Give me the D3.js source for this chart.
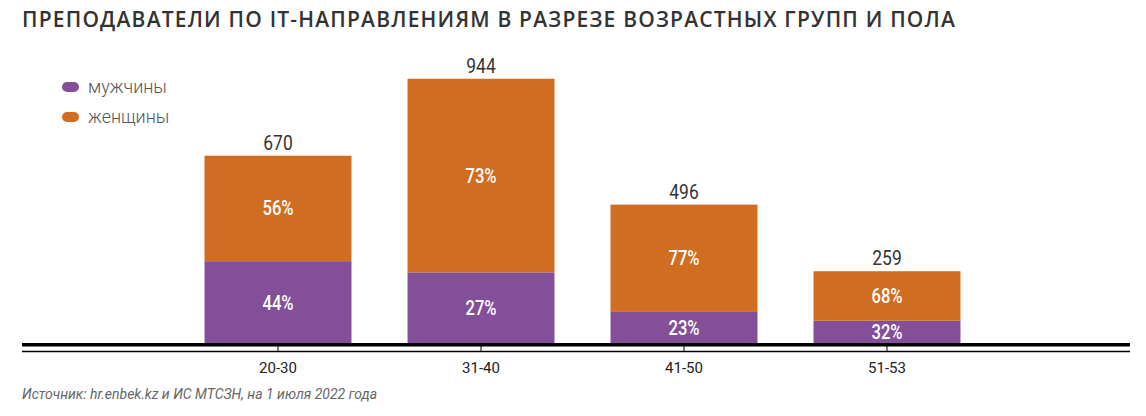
<!DOCTYPE html>
<html>
<head>
<meta charset="utf-8">
<script src="https://cdn.jsdelivr.net/npm/d3@7"></script>
<style>
  body { margin: 0; background: #fff; }
  svg { display: block; }
</style>
</head>
<body>
<div id="chart"></div>
<script>
// data
var groups = ["20-30", "31-40", "41-50", "51-53"];
var totals = [670, 944, 496, 259];
var menPct = [44, 27, 23, 32];
var womenPct = [56, 73, 77, 68];
var seriesNames = ["мужчины", "женщины"];
var colors = ["#834f99", "#d16d21"];

var width = 1146, height = 416;
var baseY = 344;

var svg = d3.select("#chart").append("svg")
    .attr("width", width)
    .attr("height", height);

// title
svg.append("text")
    .attr("x", 22)
    .attr("y", 27)
    .text("ПРЕПОДАВАТЕЛИ ПО IT-НАПРАВЛЕНИЯМ В РАЗРЕЗЕ ВОЗРАСТНЫХ ГРУПП И ПОЛА")
    .style("font-family", "'Open Sans', sans-serif")
    .style("font-size", "21px")
    .style("font-weight", "600")
    .style("letter-spacing", "1.2px")
    .style("fill", "#333");

var x = d3.scaleBand()
    .domain(groups)
    .range([176.5, 988.5])
    .paddingInner(0.276)
    .paddingOuter(0.138);

var y = d3.scaleLinear()
    .domain([0, 1000])
    .range([baseY, baseY - 281]);

var rows = groups.map(function (g, i) {
    return { group: g, total: totals[i], men: menPct[i], women: womenPct[i] };
});

// stacked bars
var bars = svg.append("g").selectAll("g")
    .data(rows)
    .join("g");

bars.append("rect")
    .attr("x", d => x(d.group))
    .attr("width", x.bandwidth())
    .attr("y", d => y(d.total * d.men / 100))
    .attr("height", d => baseY - y(d.total * d.men / 100))
    .style("fill", colors[0]);

bars.append("rect")
    .attr("x", d => x(d.group))
    .attr("width", x.bandwidth())
    .attr("y", d => y(d.total))
    .attr("height", d => y(d.total * d.men / 100) - y(d.total))
    .style("fill", colors[1]);

// condensed look for the numbers
function narrow(sel, cx, cy) {
    sel.attr("transform", d => "translate(" + cx(d) + "," + cy(d) + ") scale(0.83,1)")
        .attr("text-anchor", "middle")
        .style("font-family", "Roboto, sans-serif")
        .style("font-size", "20px");
}
var mid = d => x(d.group) + x.bandwidth() / 2;

// percentage labels
bars.append("text")
    .call(narrow, mid, d => (baseY + y(d.total * d.men / 100)) / 2 + 7)
    .text(d => d.men + "%")
    .style("font-weight", "500")
    .style("fill", "#fff");

bars.append("text")
    .call(narrow, mid, d => (y(d.total * d.men / 100) + y(d.total)) / 2 + 7)
    .text(d => d.women + "%")
    .style("font-weight", "500")
    .style("fill", "#fff");

// totals
bars.append("text")
    .call(narrow, mid, d => y(d.total) - 6)
    .text(d => d.total)
    .style("font-size", "21px")
    .style("fill", "#333");

// axis: thick baseline + thin line with ticks
svg.append("rect")
    .attr("x", 22)
    .attr("y", baseY - 1)
    .attr("width", 1108)
    .attr("height", 3.5)
    .style("fill", "#000");

var axis = svg.append("g")
    .attr("transform", "translate(0," + (baseY + 7) + ")")
    .call(d3.axisTop(x).tickSize(6).tickSizeOuter(0).tickFormat(""));
axis.select(".domain").remove();
axis.selectAll("line").style("stroke", "#000");

svg.append("line")
    .attr("x1", 22).attr("x2", 1130)
    .attr("y1", baseY + 7.5).attr("y2", baseY + 7.5)
    .style("stroke", "#000")
    .style("stroke-width", 1.3);

svg.append("g").selectAll("text")
    .data(groups)
    .join("text")
    .attr("x", d => x(d) + x.bandwidth() / 2)
    .attr("y", 373)
    .attr("text-anchor", "middle")
    .text(d => d)
    .style("font-family", "Roboto, sans-serif")
    .style("font-size", "15px")
    .style("fill", "#222");

// legend
seriesNames.forEach(function (name, i) {
    svg.append("rect")
        .attr("x", 62)
        .attr("y", 82 + i * 30)
        .attr("width", 17)
        .attr("height", 10)
        .attr("rx", 5)
        .style("fill", colors[i]);
    svg.append("text")
        .attr("x", 88)
        .attr("y", 93 + i * 30)
        .text(name)
        .style("font-family", "Roboto, sans-serif")
        .style("font-size", "18px")
        .style("font-weight", "300")
        .style("fill", "#555");
});

// source
svg.append("text")
    .attr("x", 22)
    .attr("y", 399)
    .text("Источник: hr.enbek.kz и ИС МТСЗН, на 1 июля 2022 года")
    .style("font-family", "Roboto, sans-serif")
    .style("font-size", "14px")
    .style("font-style", "italic")
    .style("fill", "#666");
</script>
</body>
</html>
